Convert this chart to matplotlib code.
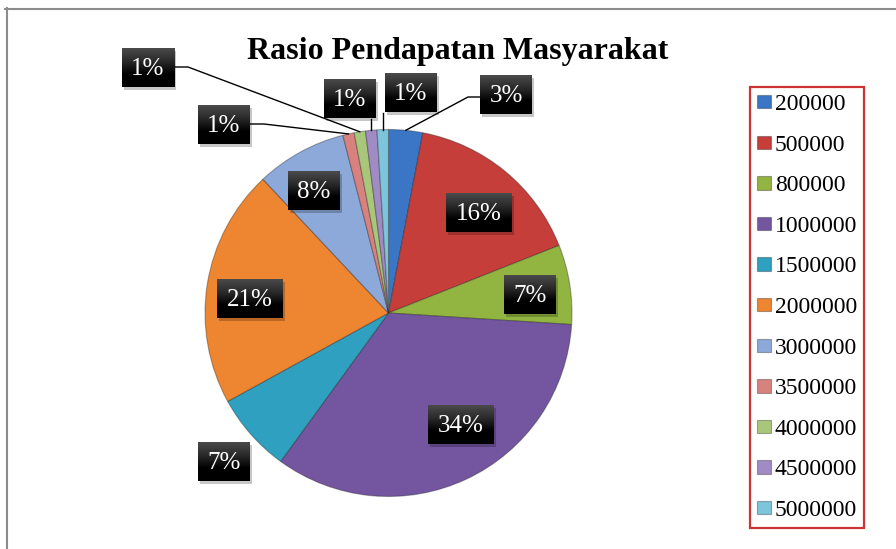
import matplotlib
matplotlib.use("Agg")
import matplotlib.pyplot as plt
from matplotlib.patches import Rectangle
from matplotlib.colors import LinearSegmentedColormap
import numpy as np

plt.rcParams['font.family'] = ['Liberation Serif', 'DejaVu Serif']

# ---- data ----
categories = ['200000', '500000', '800000', '1000000', '1500000', '2000000',
              '3000000', '3500000', '4000000', '4500000', '5000000']
percent = [3, 16, 7, 34, 7, 21, 8, 1, 1, 1, 1]
title = 'Rasio Pendapatan Masyarakat'

colors = ['#3A76C5', '#C63E3A', '#92B440', '#7456A0', '#2FA0C0', '#EE8530',
          '#8CA9DA', '#D8827F', '#A9C77A', '#A08BC4', '#7CC5DB']

W, H = 896, 549
fig = plt.figure(figsize=(W / 100, H / 100), dpi=100)
ax = fig.add_axes([0, 0, 1, 1])

def Y(y):
    return H - y

cx, cy, R = 388.5, Y(313), 183.5
wedges, _ = ax.pie(percent, colors=colors, startangle=90, counterclock=False,
                   center=(cx, cy), radius=R,
                   wedgeprops=dict(edgecolor=(0.1, 0.1, 0.1, 0.35), linewidth=0.8))

# label layout (top-down pixel coordinates of the box centres)
label_pos = [(506, 95), (479, 213), (530, 295), (461, 425), (224, 462),
             (250, 299), (314, 191), (224, 125), (148, 68), (350, 99), (411, 93)]
leaders = ['elbowL', None, None, None, None, None, None, 'elbowR', 'elbowR', 'down', 'down']

box_cmap = LinearSegmentedColormap.from_list('box', ['#000000', '#000000', '#2a2a2a', '#4a4a4a'])
grad = np.linspace(0, 1, 64).reshape(-1, 1)

box_h = 39
for i, (w, p) in enumerate(zip(wedges, percent)):
    s = f'{p}%'
    bx, by = label_pos[i]
    bw = 52 if len(s) == 2 else 66
    ax.add_patch(Rectangle((bx - bw / 2 + 2, Y(by) - box_h / 2 - 2), bw, box_h,
                           facecolor='#000000', alpha=0.22, edgecolor='none', zorder=4))
    ax.imshow(grad, cmap=box_cmap, origin='lower', aspect='auto', zorder=5,
              extent=[bx - bw / 2, bx + bw / 2, Y(by) - box_h / 2, Y(by) + box_h / 2])
    ax.text(bx, Y(by) - 1, s, ha='center', va='center', color='white',
            fontsize=18, zorder=6)
    lt = leaders[i]
    if lt is not None:
        mid = np.deg2rad((w.theta1 + w.theta2) / 2)
        ex, ey = cx + R * np.cos(mid), cy + R * np.sin(mid)
        if lt == 'elbowL':
            xs = [bx - bw / 2, bx - bw / 2 - 12, ex]
            ys = [Y(by + 2), Y(by + 2), ey]
        elif lt == 'elbowR':
            xs = [bx + bw / 2, bx + bw / 2 + 14, ex]
            ys = [Y(by - 1), Y(by - 1), ey]
        else:
            xs = [ex, ex]
            ys = [Y(by) - box_h / 2, ey]
        ax.plot(xs, ys, color='black', lw=1.0, zorder=3)

ax.set_xlim(0, W)
ax.set_ylim(0, H)
ax.set_aspect('equal')
ax.axis('off')

fig.text(457.5 / W, 1 - 51 / H, title, ha='center', va='center',
         fontsize=23, fontweight='bold')

leg = ax.legend(wedges, categories, loc='upper left',
                bbox_to_anchor=(750 / W, 1 - 87 / H), bbox_transform=fig.transFigure,
                frameon=True, fancybox=False, fontsize=17,
                handlelength=0.6, handleheight=0.5, handletextpad=0.15,
                labelspacing=0.83, borderpad=0.3, borderaxespad=0)
leg.get_frame().set_edgecolor('#C00000')
leg.get_frame().set_linewidth(1.6)

fig.add_artist(plt.Line2D([5 / W, 1], [1 - 8.5 / H, 1 - 8.5 / H], color='#8c8c8c', lw=1.5,
                          transform=fig.transFigure))
fig.add_artist(plt.Line2D([7 / W, 7 / W], [1 - 8 / H, 0], color='#8c8c8c', lw=1.5,
                          transform=fig.transFigure))

fig.savefig('out.png', dpi=100)
